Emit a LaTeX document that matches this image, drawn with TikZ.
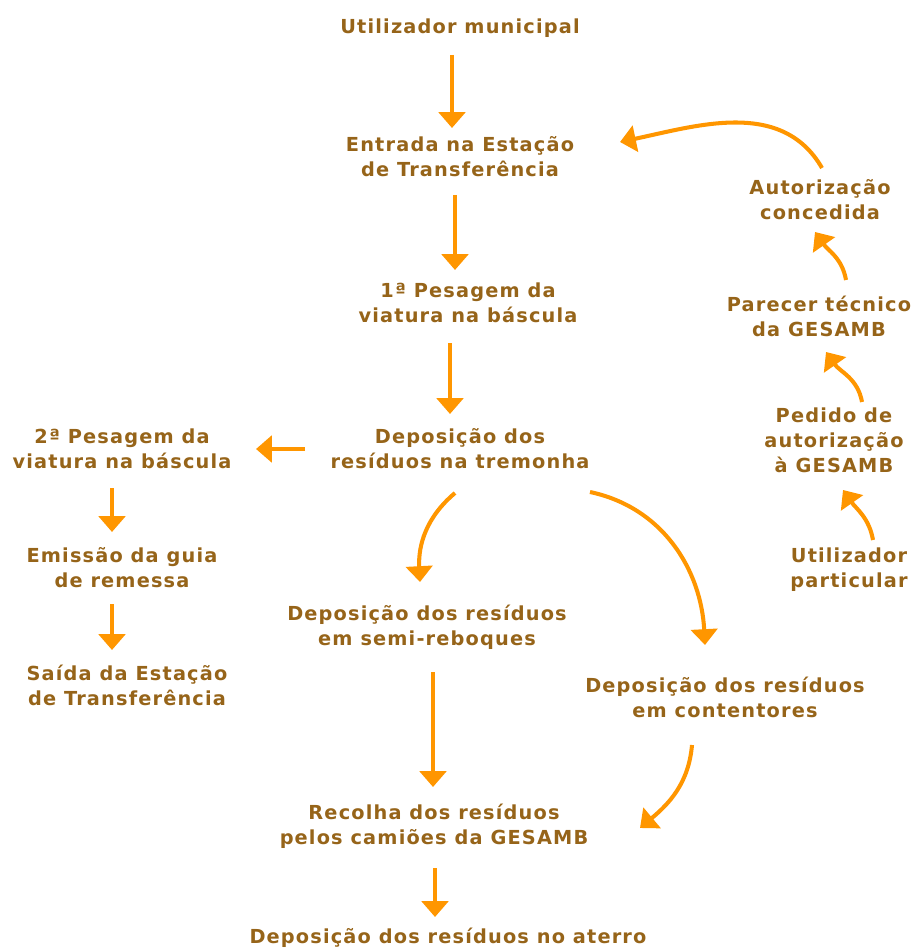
\documentclass[tikz,border=0pt]{standalone}
\usepackage{fontspec}
\setmainfont{DejaVu Sans}[LetterSpace=6]
\usetikzlibrary{arrows.meta}
\definecolor{textbrown}{RGB}{150,100,25}
\definecolor{arroworange}{RGB}{255,150,0}
\tikzstyle{etapa}=[text=textbrown, align=center, font=\fontsize{11}{14.2}\selectfont\bfseries, inner sep=1pt]
\tikzstyle{seta}=[draw=arroworange, line width=2.3pt, -{Triangle[width=15pt,length=9pt]}]

\begin{document}
\begin{tikzpicture}[x=0.02cm, y=-0.02cm]
        \useasboundingbox (0,0) rectangle (914,949);

        % coluna central
        \node(municipal)[etapa] at (460,28) {Utilizador municipal};
        \node(entrada)[etapa] at (460,157) {Entrada na Estação\\de Transferência};
        \node(pesagem1)[etapa] at (468,303) {1ª Pesagem da\\viatura na báscula};
        \node(tremonha)[etapa] at (460,449) {Deposição dos\\resíduos na tremonha};

        % saida pela esquerda
        \node(pesagem2)[etapa] at (122,449) {2ª Pesagem da\\viatura na báscula};
        \node(guia)[etapa] at (122,568) {Emissão da guia\\de remessa};
        \node(saida)[etapa] at (127,685) {Saída da Estação\\de Transferência};

        % deposicao
        \node(semi)[etapa] at (427,627) {Deposição dos resíduos\\em semi-reboques};
        \node(contentores)[etapa] at (725,697) {Deposição dos resíduos\\em contentores};
        \node(recolha)[etapa] at (434,826) {Recolha dos resíduos\\pelos camiões da GESAMB};
        \node(aterro)[etapa] at (448,938) {Deposição dos resíduos no aterro};

        % utilizador particular
        \node(autorizacao)[etapa] at (820,200) {Autorização\\concedida};
        \node(parecer)[etapa] at (819,316) {Parecer técnico\\da GESAMB};
        \node(pedido)[etapa] at (834,440) {Pedido de\\autorização\\à GESAMB};
        \node(particular)[etapa] at (849,570) {Utilizador\\particular};

        \draw[seta] ([shift={(-8,27)}]municipal.center) -- ([shift={(-8,-29)}]entrada.center);
        \draw[seta] ([shift={(-5,38)}]entrada.center) -- ([shift={(-13,-33)}]pesagem1.center);
        \draw[seta] ([shift={(-18,40)}]pesagem1.center) -- ([shift={(-10,-35)}]tremonha.center);
        \draw[seta] ([shift={(-155,0)}]tremonha.center) -- ([shift={(134,0)}]pesagem2.center);
        \draw[seta] ([shift={(-10,39)}]pesagem2.center) -- ([shift={(-10,-36)}]guia.center);
        \draw[seta] ([shift={(-10,36)}]guia.center) -- ([shift={(-15,-35)}]saida.center);
        \draw[seta] ([shift={(-5,44)}]tremonha.center) to[out=-140, in=93] ([shift={(-7,-45)}]semi.center);
        \draw[seta] ([shift={(130,43)}]tremonha.center) to[out=-12, in=93] ([shift={(-20,-52)}]contentores.center);
        \draw[seta] ([shift={(6,45)}]semi.center) -- ([shift={(-1,-39)}]recolha.center);
        \draw[seta] ([shift={(-33,48)}]contentores.center) to[out=-95, in=40] ([shift={(206,2)}]recolha.center);
        \draw[seta] ([shift={(1,42)}]recolha.center) -- ([shift={(-13,-21)}]aterro.center);
        \draw[seta] ([shift={(24,-30)}]particular.center) to[out=100, in=-55] ([shift={(9,50)}]pedido.center);
        \draw[seta] ([shift={(28,-38)}]pedido.center) to[out=100, in=-55] ([shift={(7,36)}]parecer.center);
        \draw[seta] ([shift={(27,-36)}]parecer.center) to[out=100, in=-55] ([shift={(-5,32)}]autorizacao.center);
        \draw[seta] ([shift={(2,-32)}]autorizacao.center) to[out=120, in=12] ([shift={(160,-15)}]entrada.center);
\end{tikzpicture}
\end{document}
